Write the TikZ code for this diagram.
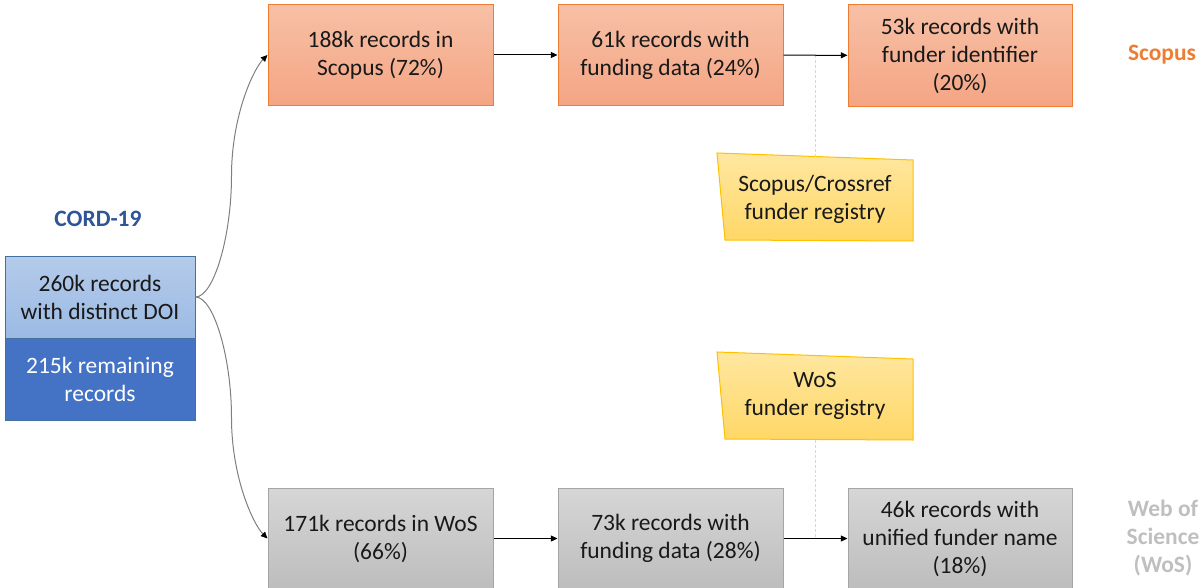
\documentclass[tikz,border=0pt]{standalone}
\usepackage{fontspec}
\setmainfont{Carlito}
\usetikzlibrary{arrows.meta,calc}
\definecolor{orB}{HTML}{ED7D31}
\definecolor{orT}{HTML}{F7C0A6}
\definecolor{orBo}{HTML}{F4A583}
\definecolor{grT}{HTML}{D6D6D6}
\definecolor{grBo}{HTML}{BDBDBD}
\definecolor{grB}{HTML}{A5A5A5}
\definecolor{blT}{HTML}{B4CBEA}
\definecolor{blBo}{HTML}{9BBAE4}
\definecolor{blB}{HTML}{41719C}
\definecolor{blD}{HTML}{4472C4}
\definecolor{cordT}{HTML}{2F5597}
\definecolor{regT}{HTML}{FFE7A0}
\definecolor{regBo}{HTML}{FFD766}
\definecolor{regB}{HTML}{FFC000}
\definecolor{regDot}{HTML}{FFD966}
\definecolor{wosL}{HTML}{BFBFBF}
\definecolor{conn}{HTML}{7F7F7F}
\begin{document}
\begin{tikzpicture}[x=0.75pt,y=-0.75pt,
  font=\fontsize{17.6pt}{21pt}\selectfont,
  every node/.style={inner sep=0pt, align=center, text=black!90},
  sbox/.style={draw=orB, line width=0.75pt, top color=orT, bottom color=orBo,
    minimum width=225*0.75pt, minimum height=101*0.75pt},
  wbox/.style={draw=grB, line width=0.75pt, top color=grT, bottom color=grBo,
    minimum width=225*0.75pt, minimum height=101*0.75pt},
  arr/.style={-{Triangle[length=5pt,width=4.5pt]}, line width=0.75pt, black},
  carr/.style={-{Triangle[length=5pt,width=4.5pt,color=black]}, line width=0.75pt, conn},
  dot/.style={dash pattern=on 2.2pt off 1.5pt, line width=1.3pt, regDot}
]
\useasboundingbox (0,0) rectangle (1201,588);

% CORD-19
\node[text=cordT, font=\fontsize{17.6pt}{21pt}\selectfont\bfseries] (cordlbl) at (98,219) {CORD-19};
\node[draw=blB, line width=0.75pt, top color=blT, bottom color=blBo,
  minimum width=190*0.75pt, minimum height=82*0.75pt] (cordA) at (100,297) {260k records\\with distinct DOI};
\node[draw=blB, line width=0.75pt, fill=blD, text=white,
  minimum width=190*0.75pt, minimum height=82*0.75pt] (cordB) at (100,379) {215k remaining\\records};

% Scopus row
\node[sbox] (s1) at (380.5,55) {188k records in\\Scopus (72\%)};
\node[sbox] (s2) at (670.5,55) {61k records with\\funding data (24\%)};
\node[sbox, minimum width=224*0.75pt, minimum height=102*0.75pt] (s3) at (960,55.5) {53k records with\\funder identifier\\(20\%)};
\node[text=orB, font=\fontsize{17.6pt}{21pt}\selectfont\bfseries] (slbl) at (1162,55) {Scopus};

% WoS row
\node[wbox] (w1) at (380.5,538.5) {171k records in WoS\\(66\%)};
\node[wbox] (w2) at (670.5,538.5) {73k records with\\funding data (28\%)};
\node[wbox, minimum width=224*0.75pt] (w3) at (960,538.5) {46k records with\\unified funder name\\(18\%)};
\node[text=wosL, font=\fontsize{17.6pt}{21pt}\selectfont\bfseries] (wlbl) at (1163,538) {Web of\\Science\\(WoS)};

% registries
\path[draw=regB, line width=0.75pt, top color=regT, bottom color=regBo]
  (717,153) -- (913,160) -- (913,241) -- (725,240) -- cycle;
\node (reg1) at (815,199) {Scopus/Crossref\\funder registry};
\path[draw=regB, line width=0.75pt, top color=regT, bottom color=regBo]
  (717,352) -- (913,359) -- (913,440) -- (725,439) -- cycle;
\node (reg2) at (815,396) {WoS\\funder registry};

\coordinate (a1mid) at ($(s2.east)!0.5!(s3.west)$);
\coordinate (r1top) at (815.5,156.5);
\coordinate (a2mid) at ($(w2.east)!0.5!(w3.west)$);
\coordinate (r2bot) at (815.5,440);
\draw[dot] (a1mid) -- (r1top);
\draw[dot] (r2bot) -- (a2mid);

% arrows
\draw[arr] (s1) -- (s2);
\draw[arr] (s2) -- (s3);
\draw[arr] (w1) -- (w2);
\draw[arr] (w2) -- (w3);

% curved connectors
\coordinate (m1) at ($(cordA.east)!0.5!(s1.west)$);
\coordinate (m2) at ($(cordA.east)!0.5!(w1.west)$);
\draw[carr] (cordA.east) .. controls ($(cordA.east)+(18.25,0)$) and ($(m1)+(0,60.25)$) .. (m1)
  .. controls ($(m1)+(0,-60.25)$) and ($(s1.west)+(-14,14)$) .. (s1.west);
\draw[carr] (cordA.east) .. controls ($(cordA.east)+(18.25,0)$) and ($(m2)+(0,-60.25)$) .. (m2)
  .. controls ($(m2)+(0,60.25)$) and ($(w1.west)+(-14,-14)$) .. (w1.west);
\end{tikzpicture}
\end{document}
